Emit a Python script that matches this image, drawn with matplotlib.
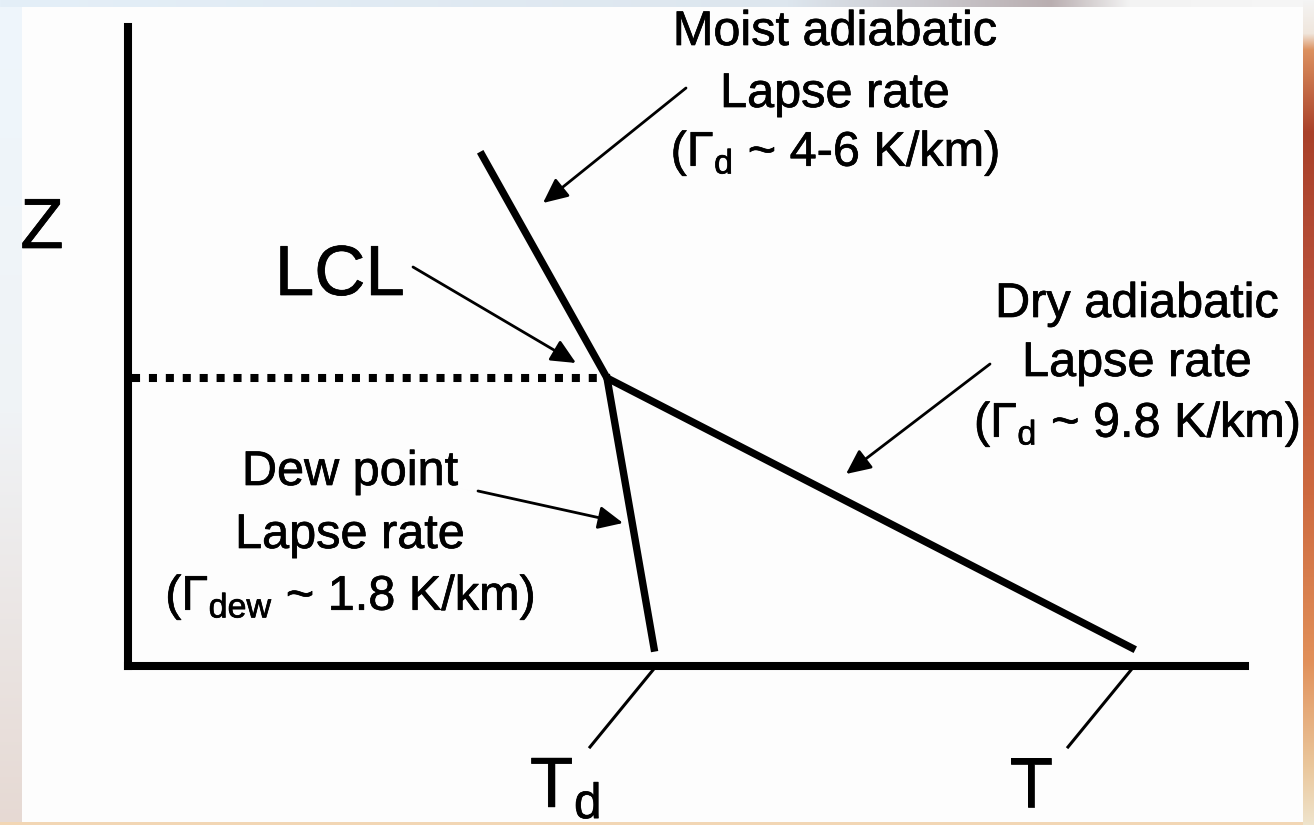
import numpy as np
import matplotlib
matplotlib.use("Agg")
import matplotlib.pyplot as plt
import matplotlib.patheffects as pe
from matplotlib.colors import to_rgb
from matplotlib.patches import FancyArrowPatch

# ─── figure geometry (pixels) ────────────────────────────────────────────
W, H = 1314, 825
X0, Y0 = 128, 666          # corner of the T/Z axes in the picture
X1, Y1 = 1245, 27          # end of the T axis / top of the Z axis

# ─── profile (T offset, Z height, px from the axes corner) ──────────────
ENV_T = [354, 479, 1004]   # moist top -> LCL -> surface temperature
ENV_Z = [511, 288, 18]
DEW_T = [479, 526]         # LCL -> surface dew point
DEW_Z = [288, 18]
LCL_T, LCL_Z = 479, 288
DOT_T = [4, LCL_T]

# leader lines to the axis labels
TD_LEAD_T, TD_LEAD_Z = [525, 462], [-4, -81]
T_LEAD_T, T_LEAD_Z = [1003, 940], [-4, -81]

# arrows: (start, tip)
ARROWS = [((558, 578), (415, 463)),   # moist
          ((285, 399), (448, 303)),   # LCL
          ((862, 302), (718, 192)),   # dry
          ((350, 175), (495, 143))]   # dew point

# text blocks: lines, centre T, baselines Z
MOIST_LINES = ["Moist adiabatic", "Lapse rate", r"($\Gamma_{\mathrm{d}}$ ~ 4-6 K/km)"]
MOIST_T, MOIST_Z = 707, [621, 559, 500]
DRY_LINES = ["Dry adiabatic", "Lapse rate", r"($\Gamma_{\mathrm{d}}$ ~ 9.8 K/km)"]
DRY_T, DRY_Z = 1009, [349, 290, 229]
DEW_LINES = ["Dew point", "Lapse rate", r"($\Gamma_{\mathrm{dew}}$ ~ 1.8 K/km)"]
DEW_TX, DEW_ZX = 222, [181, 118, 56]

plt.rcParams["font.family"] = ["Liberation Sans", "DejaVu Sans"]
plt.rcParams["mathtext.fontset"] = "custom"
plt.rcParams["mathtext.rm"] = "Liberation Sans"
plt.rcParams["mathtext.it"] = "Liberation Sans:italic"

# ─── slide background with the blurred edges ────────────────────────────
def grad(stops, n):
    pos = [p for p, _ in stops]
    cols = np.array([to_rgb(c) for _, c in stops])
    t = np.linspace(0, 1, n)
    return np.stack([np.interp(t, pos, cols[:, k]) for k in range(3)], axis=1)

img = np.ones((H, W, 3)) * 0.993
img[:, :22] = grad([(0, "#eef6fc"), (0.5, "#f0f3f6"), (1, "#e6d9d3")], H)[:, None, :]
img[:7, :] = grad([(0, "#e4eff8"), (0.6, "#dde6ee"), (0.8, "#b9aeb0"), (0.86, "#f3f3f3"), (1, "#f6f6f6")], W)[None, :, :]
img[:, 1303:] = grad([(0, "#f4f4f4"), (0.04, "#f0e6dc"), (0.06, "#dc9160"),
                      (0.16, "#a9412a"), (0.35, "#b8503a"), (0.6, "#cd6a40"),
                      (0.8, "#e1905a"), (0.93, "#eac79c"), (1, "#efe4cc")], H)[:, None, :]
img[822:, :1303] = to_rgb("#f2d6b4")

fig = plt.figure(figsize=(W / 100, H / 100), dpi=100)
bg = fig.add_axes([0, 0, 1, 1])
bg.imshow(img, extent=[0, W, H, 0], aspect="auto", interpolation="bilinear")
bg.set_xlim(0, W); bg.set_ylim(H, 0); bg.axis("off")

# ─── T / Z axes ──────────────────────────────────────────────────────────
ax = fig.add_axes([X0 / W, (H - Y0) / H, (X1 - X0) / W, (Y0 - Y1) / H])
ax.set_xlim(0, X1 - X0); ax.set_ylim(0, Y0 - Y1)
ax.patch.set_visible(False)
for s in ("top", "right"):
    ax.spines[s].set_visible(False)
for s in ("left", "bottom"):
    ax.spines[s].set_linewidth(5.8)
ax.set_xticks([]); ax.set_yticks([])

ax.plot(ENV_T, ENV_Z, color="k", lw=5.3, solid_joinstyle="miter", clip_on=False)
ax.plot(DEW_T, DEW_Z, color="k", lw=5.3, clip_on=False)
ax.plot(DOT_T, [LCL_Z, LCL_Z], color="k", lw=5.8, ls=(0, (1, 1.1)),
        dash_capstyle="butt", clip_on=False)
ax.plot(TD_LEAD_T, TD_LEAD_Z, color="k", lw=2.2, clip_on=False)
ax.plot(T_LEAD_T, T_LEAD_Z, color="k", lw=2.2, clip_on=False)

for a, b in ARROWS:
    ax.add_patch(FancyArrowPatch(a, b, arrowstyle="-|>,head_length=0.75,head_width=0.35",
                                 mutation_scale=20, lw=2, color="k",
                                 shrinkA=0, shrinkB=0, clip_on=False))

# slightly heavier strokes, like the slide's text
heavy = [pe.withStroke(linewidth=0.5, foreground="k")]

FS = 35
for lines, tx, zs in [(MOIST_LINES, MOIST_T, MOIST_Z), (DRY_LINES, DRY_T, DRY_Z),
                      (DEW_LINES, DEW_TX, DEW_ZX)]:
    for s, z in zip(lines, zs):
        ax.text(tx, z, s, fontsize=FS, ha="center", va="baseline", clip_on=False,
                path_effects=heavy)

BIG = 51
for x, z, s, ha in [(-86, 418, "Z", "center"), (212, 371, "LCL", "center"),
                    (402, -141, r"T$_{\mathrm{d}}$", "left"), (903, -141, "T", "center")]:
    ax.text(x, z, s, fontsize=BIG, ha=ha, va="baseline", path_effects=heavy)

fig.savefig("out.png", dpi=100)
